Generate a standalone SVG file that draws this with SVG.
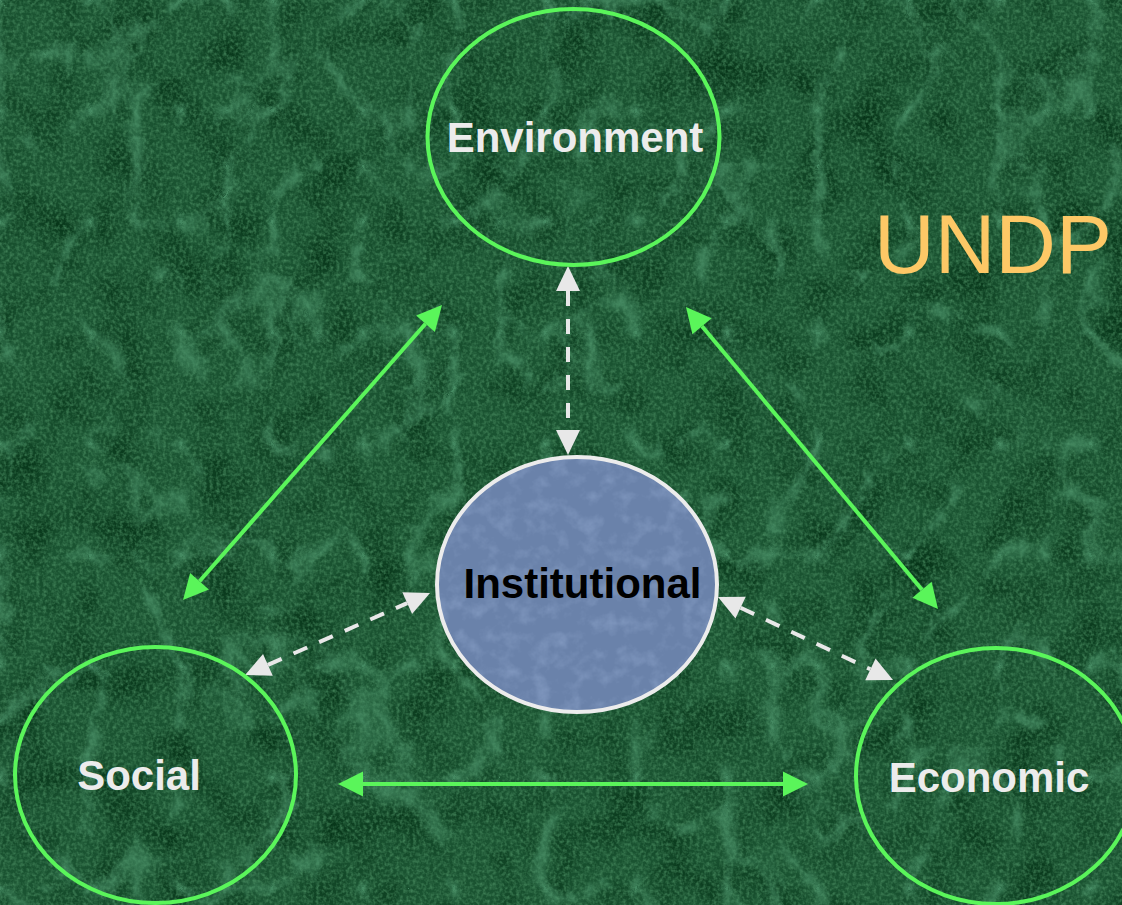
<svg xmlns="http://www.w3.org/2000/svg" width="1122" height="905" viewBox="0 0 1122 905">
  <defs>
    <filter id="marble" x="0" y="0" width="100%" height="100%" filterUnits="objectBoundingBox" color-interpolation-filters="sRGB">
      <feTurbulence type="turbulence" baseFrequency="0.011 0.009" numOctaves="5" seed="7" result="t1"/>
      <feColorMatrix in="t1" type="matrix" values="0 0 0 0 0.30  0 0 0 0 0.58  0 0 0 0 0.42  -3.6 0 0 0 0.8" result="veins"/>
      <feTurbulence type="fractalNoise" baseFrequency="0.3" numOctaves="2" seed="3" result="grain"/>
      <feColorMatrix in="grain" type="matrix" values="0 0 0 0 0.28  0 0 0 0 0.54  0 0 0 0 0.37  1.6 0 0 0 -0.6" result="grainc"/>
      <feTurbulence type="fractalNoise" baseFrequency="0.02" numOctaves="3" seed="19" result="blot"/>
      <feColorMatrix in="blot" type="matrix" values="0 0 0 0 0.02  0 0 0 0 0.20  0 0 0 0 0.09  2.2 0 0 0 -0.95" result="blotc"/>
      <feFlood flood-color="#1a5331" result="base"/>
      <feMerge>
        <feMergeNode in="base"/>
        <feMergeNode in="blotc"/>
        <feMergeNode in="grainc"/>
        <feMergeNode in="veins"/>
      </feMerge>
    </filter>
    <filter id="stone" x="0" y="0" width="100%" height="100%" filterUnits="objectBoundingBox" color-interpolation-filters="sRGB">
      <feTurbulence type="fractalNoise" baseFrequency="0.06" numOctaves="4" seed="11" result="n"/>
      <feColorMatrix in="n" type="matrix" values="0 0 0 0 0.58  0 0 0 0 0.67  0 0 0 0 0.82  1.1 0 0 0 -0.5" result="nc"/>
      <feFlood flood-color="#6a82aa" result="b"/>
      <feMerge>
        <feMergeNode in="b"/>
        <feMergeNode in="nc"/>
      </feMerge>
      <feComposite in2="SourceGraphic" operator="in"/>
    </filter>
    <marker id="gArrow" markerUnits="userSpaceOnUse" markerWidth="26" markerHeight="26" refX="0" refY="0" orient="auto-start-reverse" overflow="visible">
      <path d="M0,-12.5 L25,0 L0,12.5 z" fill="#5af55a"/>
    </marker>
    <marker id="wArrow" markerUnits="userSpaceOnUse" markerWidth="26" markerHeight="26" refX="0" refY="0" orient="auto-start-reverse" overflow="visible">
      <path d="M0,-12 L25,0 L0,12 z" fill="#e8e8e8"/>
    </marker>
  </defs>
  <style>
    .ring { fill: none; stroke: #5af55a; stroke-width: 4; }
    .lbl { font-family: "Liberation Sans", Arial, sans-serif; font-weight: bold; font-size: 42px; text-anchor: middle; fill: #ececec; }
    .green { stroke: #5af55a; stroke-width: 4; fill: none; marker-start: url(#gArrow); marker-end: url(#gArrow); }
    .dash { stroke: #e8e8e8; stroke-width: 4; fill: none; stroke-dasharray: 15 13; marker-start: url(#wArrow); marker-end: url(#wArrow); }
  </style>

  <rect id="background" x="0" y="0" width="1122" height="905" fill="#1d5a35" filter="url(#marble)"/>

  <text id="undp" x="874" y="273" font-family="'Liberation Sans', Arial, sans-serif" font-size="84" fill="#fdc866">UNDP</text>

  <g id="connectors">
    <line class="dash" x1="568" y1="291" x2="568" y2="430"/>
    <line class="dash" x1="267.9" y1="664.9" x2="407.2" y2="603.1"/>
    <line class="dash" x1="740.6" y1="607.7" x2="870.4" y2="669.3"/>
    <line class="green" x1="199.5" y1="581.2" x2="425.5" y2="323.8"/>
    <line class="green" x1="702" y1="326.2" x2="922" y2="589.8"/>
    <line class="green" x1="363" y1="784" x2="783" y2="784"/>
  </g>

  <g id="environment">
    <ellipse class="ring" cx="573.5" cy="137" rx="146" ry="128"/>
    <text class="lbl" x="575" y="152">Environment</text>
  </g>

  <g id="institutional">
    <ellipse cx="577" cy="584.5" rx="140" ry="127.5" fill="#6c84ac" filter="url(#stone)"/>
    <ellipse cx="577" cy="584.5" rx="140" ry="127.5" fill="none" stroke="#ececec" stroke-width="4"/>
    <text class="lbl" x="582.5" y="598" style="fill:#000000">Institutional</text>
  </g>

  <g id="social">
    <ellipse class="ring" cx="155.5" cy="775" rx="140.5" ry="128"/>
    <text class="lbl" x="139" y="790">Social</text>
  </g>

  <g id="economic">
    <ellipse class="ring" cx="996" cy="776" rx="140" ry="128"/>
    <text class="lbl" x="989" y="792">Economic</text>
  </g>
</svg>
